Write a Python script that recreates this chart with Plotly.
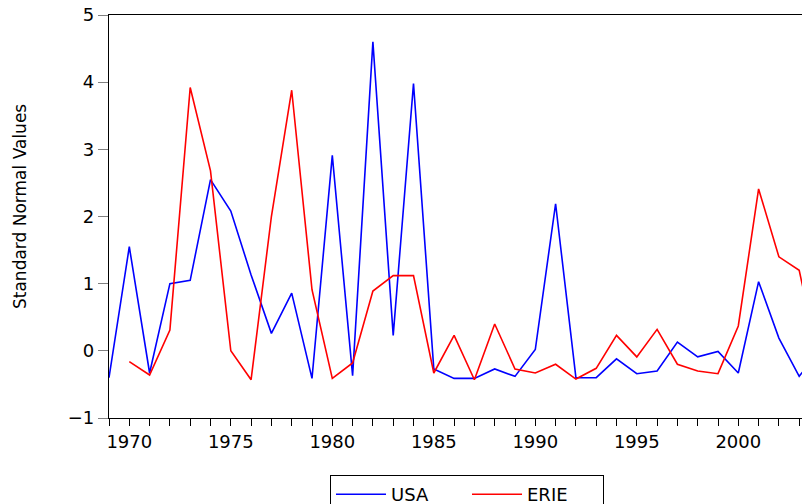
import plotly.graph_objects as go

years_usa = list(range(1969, 2005))
usa = [-0.40, 1.55, -0.33, 1.00, 1.05, 2.55, 2.08, 1.13, 0.26, 0.86, -0.41, 2.91, -0.37, 4.60,
       0.23, 3.98, -0.27, -0.41, -0.41, -0.27, -0.38, 0.02, 2.19, -0.40, -0.40, -0.12, -0.34,
       -0.30, 0.13, -0.09, -0.01, -0.33, 1.03, 0.19, -0.38, 0.00]

years_erie = list(range(1970, 2005))
erie = [-0.16, -0.36, 0.31, 3.92, 2.68, 0.00, -0.43, 2.00, 3.88, 0.91, -0.41, -0.18, 0.89,
        1.12, 1.12, -0.33, 0.23, -0.43, 0.40, -0.27, -0.33, -0.20, -0.42, -0.26, 0.23, -0.09,
        0.32, -0.20, -0.30, -0.34, 0.37, 2.41, 1.40, 1.20, -0.21]

y_ticks = [-1, 0, 1, 2, 3, 4, 5]
x_ticks = [1970, 1975, 1980, 1985, 1990, 1995, 2000]

fig = go.Figure()
fig.add_trace(go.Scatter(x=years_usa, y=usa, mode="lines", name="USA",
                         line=dict(color="#0000ff", width=1.6)))
fig.add_trace(go.Scatter(x=years_erie, y=erie, mode="lines", name="ERIE",
                         line=dict(color="#ff0000", width=1.6)))

font = "DejaVu Sans, sans-serif"
OFF = 8  # page body margin
W, H = 810 - 2 * OFF, 504 - OFF
L, T = 109 - OFF, 15 - OFF
B = H - (418 - OFF)
pw, ph = W - L, H - T - B
x_end = 1969 + pw / 20.3

fig.update_layout(
    width=W, height=H,
    margin=dict(l=L, r=0, t=T, b=B, autoexpand=False),
    plot_bgcolor="white", paper_bgcolor="white",
    font=dict(family=font, size=18, color="black"),
    showlegend=True,
    legend=dict(orientation="h", xref="container", yref="container",
                x=(330 - OFF) / W, xanchor="left",
                y=1 - (475 - OFF) / H, yanchor="top",
                bordercolor="black", borderwidth=1, bgcolor="white",
                font=dict(size=18), itemwidth=50, entrywidth=71, entrywidthmode="pixels"),
    xaxis=dict(range=[1969, x_end], tickvals=x_ticks, ticks="outside", ticklen=7,
               tickcolor="black", showline=True, linecolor="black", linewidth=1.2,
               mirror=True, showgrid=False, zeroline=False, ticklabeloverflow="allow",
               minor=dict(dtick=1, tick0=1969, ticks="outside", ticklen=7, tickcolor="black"),
               tickfont=dict(size=18)),
    yaxis=dict(range=[-1, 5], tickvals=y_ticks, ticks="outside", ticklen=10,
               tickcolor="#808080", showline=True, linecolor="black", linewidth=1.2,
               mirror=False, showgrid=False, zeroline=False, ticklabeloverflow="allow",
               tickfont=dict(size=18)),
    annotations=[dict(text="Standard Normal Values", xref="paper", yref="paper",
                      x=(20 - 109) / pw, y=(418 - 207) / ph, xanchor="center", yanchor="middle",
                      textangle=-90, showarrow=False, font=dict(size=17))],
)

fig.write_html("out.html")
